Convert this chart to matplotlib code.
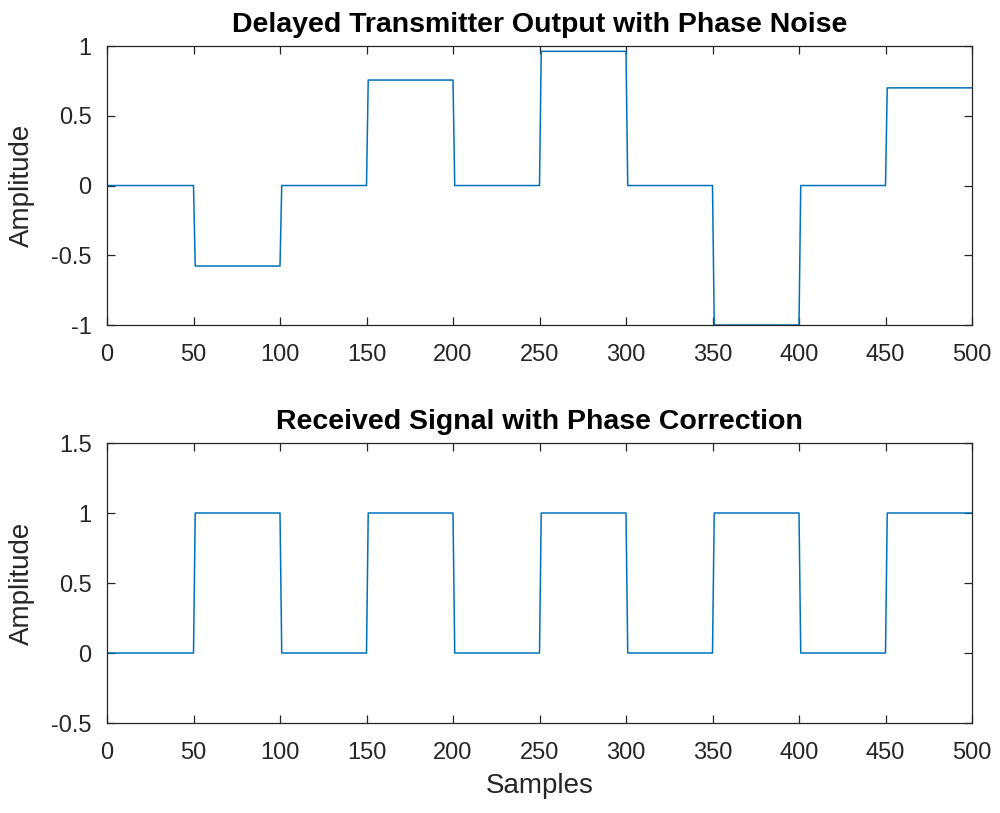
import numpy as np
import matplotlib.pyplot as plt

# symbol levels, 50 samples per symbol
tx_levels = [0, -0.577, 0, 0.756, 0, 0.962, 0, -1.0, 0, 0.70]
rx_levels = [0, 1, 0, 1, 0, 1, 0, 1, 0, 1]
samples_per_symbol = 50

top_title = 'Delayed Transmitter Output with Phase Noise'
bottom_title = 'Received Signal with Phase Correction'
xticks = [0, 50, 100, 150, 200, 250, 300, 350, 400, 450, 500]
top_yticks = [-1, -0.5, 0, 0.5, 1]
bottom_yticks = [-0.5, 0, 0.5, 1, 1.5]


def expand(levels):
    y = np.repeat(levels, samples_per_symbol)
    y = np.concatenate([[levels[0]], y])
    x = np.arange(len(y))
    return x, y


def fmt(v):
    return ('%g' % v)


plt.rcParams['font.family'] = ['Liberation Sans', 'DejaVu Sans']
fig = plt.figure(figsize=(10, 8.13), dpi=100)
ax1 = fig.add_axes([0.107, 0.6002, 0.865, 0.3432])
ax2 = fig.add_axes([0.107, 0.1107, 0.865, 0.3444])

dark = '#262626'
blue = '#0072BD'

for ax, levels, title, yticks in [(ax1, tx_levels, top_title, top_yticks),
                                  (ax2, rx_levels, bottom_title, bottom_yticks)]:
    x, y = expand(levels)
    ax.plot(x, y, color=blue, lw=1.1)
    ax.set_xlim(0, 500)
    ax.set_ylim(yticks[0], yticks[-1])
    ax.set_xticks(xticks)
    ax.set_yticks(yticks)
    ax.set_yticklabels([fmt(v) for v in yticks])
    ax.tick_params(direction='in', top=True, right=True, length=6, width=0.9,
                   colors=dark, labelsize=17)
    ax.tick_params(axis='x', pad=14)
    ax.tick_params(axis='y', pad=11)
    for s in ax.spines.values():
        s.set_color(dark)
        s.set_linewidth(0.9)
    ax.set_title(title, fontsize=20.5, fontweight='bold', color='black', pad=10)
    ax.set_ylabel('Amplitude', fontsize=20, color=dark, labelpad=12)

ax2.set_xlabel('Samples', fontsize=20, color=dark, labelpad=6)

fig.savefig('out.png', dpi=100)
